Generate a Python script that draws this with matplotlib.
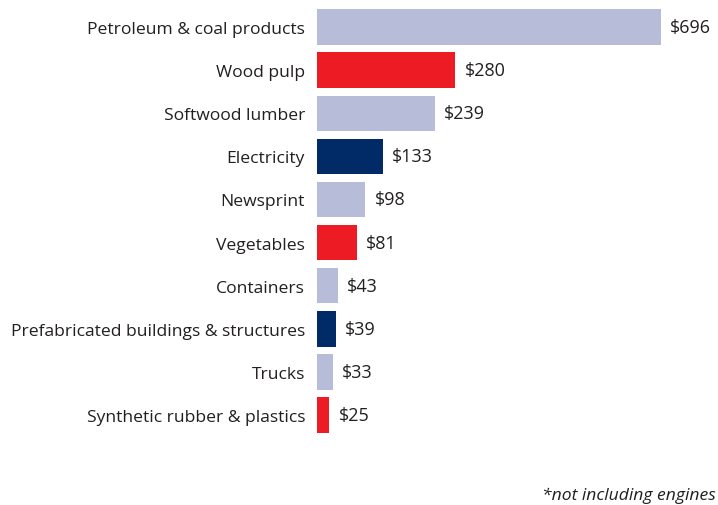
import matplotlib
matplotlib.use("Agg")
import matplotlib.pyplot as plt

LIGHT = "#B7BDD8"
RED = "#ED1C24"
NAVY = "#002B66"
INK = "#231F20"

categories = [
    "Petroleum & coal products",
    "Wood pulp",
    "Softwood lumber",
    "Electricity",
    "Newsprint",
    "Vegetables",
    "Containers",
    "Prefabricated buildings & structures",
    "Trucks",
    "Synthetic rubber & plastics",
]
values = [696, 280, 239, 133, 98, 81, 43, 39, 33, 25]
bar_colors = [LIGHT, RED, LIGHT, NAVY, LIGHT, RED, LIGHT, NAVY, LIGHT, RED]

plt.rcParams["font.family"] = ["Open Sans", "DejaVu Sans"]

fig = plt.figure(figsize=(7.18, 5.06), dpi=100)
ax = fig.add_axes([317 / 718, 1 - 437.6 / 506, (661 - 317) / 718, 431.1 / 506])

ypos = list(range(len(categories)))
bars = ax.barh(ypos, values, color=bar_colors, height=0.82)
ax.set_ylim(len(categories) - 0.5, -0.5)
ax.set_xlim(0, 696)

ax.set_yticks(ypos)
ax.set_yticklabels(categories, fontsize=12.6, color=INK)
ax.tick_params(axis="y", length=0, pad=8.6)
ax.set_xticks([])
for s in ax.spines.values():
    s.set_visible(False)

for b, v in zip(bars, values):
    ax.annotate(f"${v}", (b.get_width(), b.get_y() + b.get_height() / 2),
                xytext=(6.5, 0), textcoords="offset points",
                ha="left", va="center", fontsize=13, color=INK,
                annotation_clip=False)

fig.text(716 / 718, 1 - 496 / 506, "*not including engines", ha="right", va="center",
         fontsize=12.6, style="italic", color=INK)

fig.savefig("out.png", dpi=100)
